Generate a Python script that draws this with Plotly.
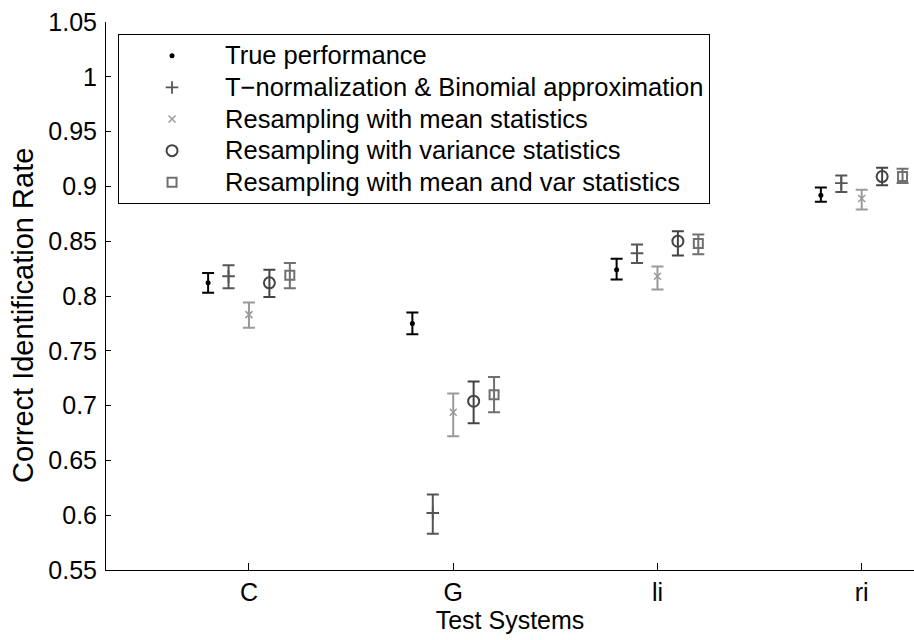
import plotly.graph_objects as go

categories = ["C", "G", "li", "ri"]
series_names = [
    "True performance",
    "T\u2212normalization & Binomial approximation",
    "Resampling with mean statistics",
    "Resampling with variance statistics",
    "Resampling with mean and var statistics",
]

true_center = [0.812, 0.775, 0.824, 0.892]
true_upper = [0.821, 0.785, 0.834, 0.899]
true_lower = [0.803, 0.765, 0.815, 0.886]

tnorm_center = [0.818, 0.602, 0.839, 0.903]
tnorm_upper = [0.828, 0.619, 0.847, 0.910]
tnorm_lower = [0.807, 0.583, 0.830, 0.895]

mean_center = [0.783, 0.694, 0.818, 0.889]
mean_upper = [0.794, 0.711, 0.827, 0.897]
mean_lower = [0.771, 0.672, 0.806, 0.879]

var_center = [0.812, 0.704, 0.850, 0.909]
var_upper = [0.824, 0.722, 0.859, 0.917]
var_lower = [0.799, 0.684, 0.837, 0.901]

mv_center = [0.819, 0.710, 0.848, 0.909]
mv_upper = [0.830, 0.726, 0.856, 0.916]
mv_lower = [0.807, 0.694, 0.838, 0.903]

y_ticks = [0.55, 0.6, 0.65, 0.7, 0.75, 0.8, 0.85, 0.9, 0.95, 1.0, 1.05]
y_ticktext = ["0.55", "0.6", "0.65", "0.7", "0.75", "0.8", "0.85", "0.9", "0.95", "1", "1.05"]

x_title = "Test Systems"
y_title = "Correct Identification Rate"

centers = [true_center, tnorm_center, mean_center, var_center, mv_center]
uppers = [true_upper, tnorm_upper, mean_upper, var_upper, mv_upper]
lowers = [true_lower, tnorm_lower, mean_lower, var_lower, mv_lower]

offsets = [-0.2, -0.1, 0.0, 0.1, 0.2]
colors = ["#000000", "#555555", "#9a9a9a", "#444444", "#707070"]
symbols = ["circle", "cross-thin-open", "x-thin-open", "circle-open", "square-open"]
sizes = [5, 9, 7, 11, 9]
mlw = [0, 1.8, 1.5, 2, 2]

FONT = "Liberation Sans, Arial, sans-serif"

fig = go.Figure()
for k in range(5):
    xs = [i + 1 + offsets[k] for i in range(len(categories))]
    c = centers[k]
    fig.add_trace(go.Scatter(
        x=xs, y=c, mode="markers",
        name='<span style="font-size:25.5px">' + series_names[k] + '</span>',
        marker=dict(symbol=symbols[k], size=sizes[k], color=colors[k],
                    line=dict(width=mlw[k], color=colors[k])),
        error_y=dict(type="data", symmetric=False,
                     array=[u - v for u, v in zip(uppers[k], c)],
                     arrayminus=[v - l for v, l in zip(c, lowers[k])],
                     color=colors[k], thickness=2, width=6),
    ))

fig.add_annotation(
    text=y_title, textangle=-90, showarrow=False,
    xref="paper", yref="paper", x=-0.103, y=0.465,
    xanchor="center", yanchor="middle",
    font=dict(family=FONT, size=29, color="black"),
)

fig.update_layout(
    width=914, height=640,
    margin=dict(l=106, r=0, t=22, b=70),
    paper_bgcolor="white", plot_bgcolor="white",
    font=dict(family=FONT, size=25, color="black"),
    showlegend=True,
    legend=dict(x=0.0149, y=0.978, xanchor="left", yanchor="top",
                bgcolor="white", bordercolor="black", borderwidth=1,
                font=dict(size=22), itemwidth=96, tracegroupgap=0),
    xaxis=dict(range=[0.3, 4.256], tickmode="array", tickvals=[1, 2, 3, 4],
               ticktext=categories, ticks="inside", ticklen=7, tickwidth=1,
               tickcolor="black", showline=True, linecolor="black", linewidth=1,
               showgrid=False, zeroline=False, mirror=False,
               title=dict(text=x_title, font=dict(size=25), standoff=4)),
    yaxis=dict(range=[0.55, 1.05], tickmode="array", tickvals=y_ticks,
               ticktext=y_ticktext, ticks="inside", ticklen=5, tickwidth=1,
               tickcolor="black", showline=True, linecolor="black", linewidth=1,
               showgrid=False, zeroline=False, mirror=False, ticklabelstandoff=3),
)

fig.write_html("out.html")
